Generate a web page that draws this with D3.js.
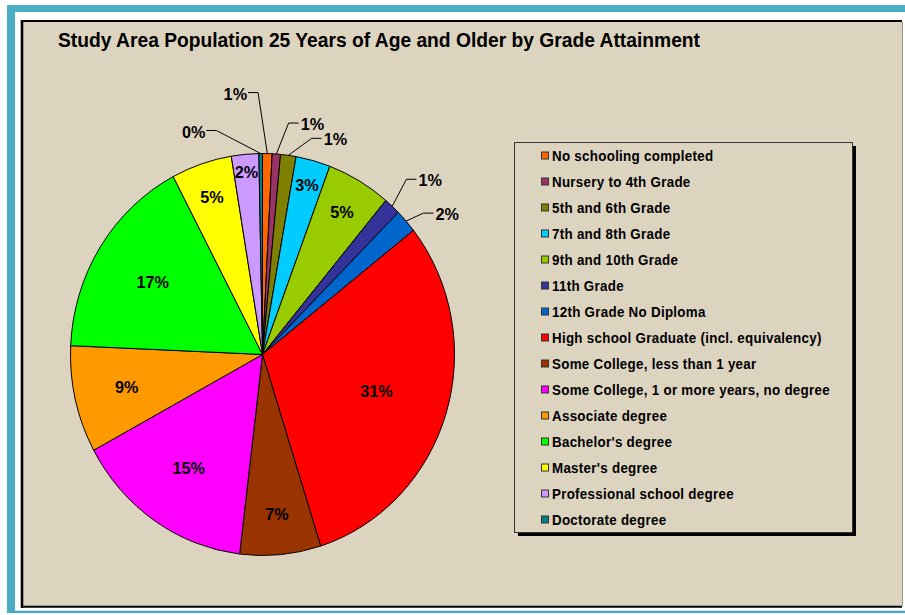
<!DOCTYPE html>
<html><head><meta charset="utf-8">
<script src="https://cdn.jsdelivr.net/npm/d3@7"></script>
<style>html,body{margin:0;padding:0;background:#fff;overflow:hidden}</style>
</head><body><svg id="chart" width="905" height="615"></svg>
<script>
const title = "Study Area Population 25 Years of Age and Older by Grade Attainment";
const categories = [
  "No schooling completed",
  "Nursery to 4th Grade",
  "5th and 6th Grade",
  "7th and 8th Grade",
  "9th and 10th Grade",
  "11th Grade",
  "12th Grade No Diploma",
  "High school Graduate (incl. equivalency)",
  "Some College, less than 1 year",
  "Some College, 1 or more years, no degree",
  "Associate degree",
  "Bachelor's degree",
  "Master's degree",
  "Professional school degree",
  "Doctorate degree"
];
const values = [0.8, 0.7, 1.3, 2.9, 5.4, 1.4, 1.9, 30.7, 6.8, 15.2, 8.6, 16.6, 5.1, 2.3, 0.3];
const colors = ["#FF6600","#993366","#808000","#00CCFF","#99CC00","#333399","#0066CC","#FF0000",
                "#993300","#FF00FF","#FF9900","#00FF00","#FFFF00","#CC99FF","#008080"];

const FONT = "'Liberation Sans', Arial, Helvetica, sans-serif";
const svg = d3.select("#chart");
const BG = "#DDD4C0";

// outer frame
svg.append("rect").attr("x",7).attr("y",5).attr("width",910).attr("height",608).attr("fill","#4BACC6");
svg.append("rect").attr("x",15).attr("y",12).attr("width",900).attr("height",598.7).attr("fill","#fff");
// chart area
svg.append("rect").attr("x",22).attr("y",21).attr("width",880).attr("height",585.7).attr("fill",BG);
svg.append("line").attr("x1",21).attr("x2",902).attr("y1",21).attr("y2",21).attr("stroke","#000").attr("stroke-width",2);
svg.append("line").attr("x1",22).attr("x2",22).attr("y1",20).attr("y2",608).attr("stroke","#000").attr("stroke-width",2.6);
svg.append("line").attr("x1",21).attr("x2",902).attr("y1",606.7).attr("y2",606.7).attr("stroke","#000").attr("stroke-width",2);
svg.append("line").attr("x1",902.5).attr("x2",902.5).attr("y1",22).attr("y2",606).attr("stroke","#9a9486").attr("stroke-width",1);

// title
svg.append("text").attr("x",58).attr("y",47).text(title)
  .attr("font-family",FONT).attr("font-weight","bold").attr("font-size",20)
  .attr("textLength",642).attr("lengthAdjust","spacingAndGlyphs").attr("fill","#000");

// pie
const cx = 262.5, cy = 354.5, rx = 192, ry = 201, sx = rx/ry;
const data = categories.map((c,i)=>({c, v: values[i], col: colors[i], i}));
const total = d3.sum(values);
const arcs = d3.pie().sort(null).value(d=>d.v)(data);
const arc = d3.arc().innerRadius(0).outerRadius(ry);
const g = svg.append("g").attr("transform",`translate(${cx},${cy}) scale(${sx},1)`);
g.selectAll("path").data(arcs).join("path")
  .attr("d",arc).attr("fill",d=>d.data.col)
  .attr("stroke","#000").attr("stroke-width",1).attr("vector-effect","non-scaling-stroke");

const pt = (a, r) => [cx + r*Math.sin(a)*sx, cy - r*Math.cos(a)];
const pctText = v => Math.round(v/total*100) + "%";
const radFrac = d3.scaleLinear().domain([2,3,5,7,9,16,31]).range([0.93,0.87,0.83,0.79,0.71,0.68,0.62]).clamp(true);
const TS = 0.955;

function label(x, y, txt){
  return svg.append("text").attr("transform",`translate(${x},${y}) scale(${TS},1)`)
    .attr("text-anchor","middle").attr("dy","0.36em")
    .attr("font-family",FONT).attr("font-weight","bold").attr("font-size",17).attr("fill","#000")
    .text(txt);
}

// layout offsets (from slice edge point) for the small slices' callout labels
const outsideOffsets = {0:[-32,-60], 1:[36,-30], 2:[47,-16], 5:[38,-26], 6:[41,-7], 14:[-67,-22]};

arcs.forEach(d=>{
  const mid = (d.startAngle + d.endAngle)/2;
  const p = d.data.v/total*100;
  const txt = pctText(d.data.v);
  if (outsideOffsets[d.data.i]) {
    const [ox, oy] = outsideOffsets[d.data.i];
    const a = pt(mid, ry);
    const tx = a[0] + ox, ty = a[1] + oy;
    const t = label(tx, ty, txt);
    const w = t.node().getComputedTextLength()*TS;
    let pts;
    if (ox < 0) pts = [[tx + w/2 + 1, ty - 1], [tx + w/2 + 11, ty - 1], a];
    else pts = [[tx - w/2 - 2, ty - 1], [tx - w/2 - 12, ty - 1], a];
    svg.append("path").attr("d", d3.line()(pts)).attr("fill","none").attr("stroke","#000").attr("stroke-width",1);
  } else {
    const [x, y] = pt(mid, ry*radFrac(p));
    label(x, y, txt);
  }
});

// legend
const lx = 514, ly = 142, lw = 338, lh = 390;
svg.append("rect").attr("x",lx+4).attr("y",ly+4).attr("width",lw).attr("height",lh).attr("fill","#000");
svg.append("rect").attr("x",lx+0.5).attr("y",ly+0.5).attr("width",lw).attr("height",lh).attr("fill",BG).attr("stroke","#333").attr("stroke-width",1);
const rowY = d3.scaleLinear().domain([0, categories.length-1]).range([156, 520]);
const items = svg.append("g").selectAll("g").data(data).join("g");
items.append("rect").attr("x",541.5).attr("y",d=>rowY(d.i)-4).attr("width",7).attr("height",7)
  .attr("fill",d=>d.col).attr("stroke","#333").attr("stroke-width",1);
items.append("text").attr("transform",d=>`translate(552,${rowY(d.i)+5}) scale(${TS},1)`)
  .attr("font-family",FONT).attr("font-weight","bold").attr("font-size",14).attr("letter-spacing",0.3)
  .attr("fill","#000").text(d=>d.c);
</script></body></html>
